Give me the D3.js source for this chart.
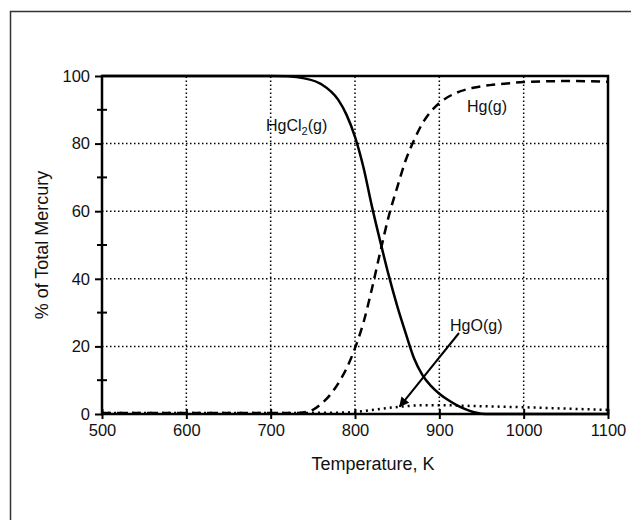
<!DOCTYPE html>
<html>
<head>
<meta charset="utf-8">
<script src="https://cdn.jsdelivr.net/npm/d3@7"></script>
<style>
  body { margin: 0; background: #fff; }
  svg text { font-family: "Liberation Sans", Arial, Helvetica, sans-serif; fill: #111; }
</style>
</head>
<body>
<svg id="chart" width="631" height="520"></svg>
<script>
/*********************  data *********************/
var temps_hgcl2 = [500, 600, 700, 720, 740, 760, 780, 790, 800, 810, 820, 830, 840, 850, 860, 870, 880, 890, 900, 910, 920, 930, 940, 950, 960, 1000, 1100];
var pct_hgcl2   = [100, 100, 100, 99.9, 99.3, 97.6, 93, 88.5, 82, 73, 61.5, 51, 41, 32, 24, 16.5, 11.5, 8.3, 6, 4.2, 2.7, 1.5, 0.6, 0.1, 0, 0, 0];

var temps_hg = [500, 600, 700, 730, 740, 750, 760, 770, 780, 790, 800, 810, 820, 830, 840, 850, 860, 870, 880, 890, 900, 920, 940, 960, 980, 1000, 1050, 1100];
var pct_hg   = [0.3, 0.3, 0.3, 0.3, 0.5, 1.2, 3, 5.5, 9, 13.5, 19.5, 27, 37, 48, 58.5, 67, 75, 81, 86, 89.5, 92, 95, 96.5, 97.3, 97.8, 98.2, 98.5, 98.3];

var temps_hgo = [500, 600, 700, 780, 800, 820, 840, 860, 880, 900, 950, 1000, 1050, 1100];
var pct_hgo   = [0.3, 0.3, 0.3, 0.4, 0.6, 1.2, 1.8, 2.3, 2.6, 2.6, 2.3, 2.0, 1.6, 1.2];

var x_ticks = [500, 600, 700, 800, 900, 1000, 1100];
var y_ticks = [0, 20, 40, 60, 80, 100];
var y_minor = [10, 30, 50, 70, 90];
/*********************************************************************/

var svg = d3.select("#chart");

// outer frame (runs off the right and bottom of the window)
svg.append("rect")
   .attr("x", 10.5).attr("y", 11.5)
   .attr("width", 640).attr("height", 540)
   .attr("fill", "none")
   .attr("stroke", "#333")
   .attr("stroke-width", 1.5);

var x = d3.scaleLinear().domain([500, 1100]).range([102, 608]);
var y = d3.scaleLinear().domain([0, 100]).range([414, 76]);

// dotted grid
var grid = svg.append("g");
grid.selectAll("line.gx")
    .data(x_ticks.slice(1, -1))
    .enter().append("line")
    .attr("x1", function(d){ return x(d); })
    .attr("x2", function(d){ return x(d); })
    .attr("y1", y(0)).attr("y2", y(100))
    .attr("stroke", "#000").attr("stroke-width", 1.5)
    .attr("stroke-dasharray", "1.5,2.5");
grid.selectAll("line.gy")
    .data(y_ticks.slice(1, -1))
    .enter().append("line")
    .attr("y1", function(d){ return y(d); })
    .attr("y2", function(d){ return y(d); })
    .attr("x1", x(500)).attr("x2", x(1100))
    .attr("stroke", "#000").attr("stroke-width", 1.5)
    .attr("stroke-dasharray", "1.5,2.5");

// curves
function series(ts, ps){ return ts.map(function(t, i){ return [t, ps[i]]; }); }
var line = d3.line()
    .x(function(d){ return x(d[0]); })
    .y(function(d){ return y(d[1]); })
    .curve(d3.curveMonotoneX);

svg.append("path").datum(series(temps_hgo, pct_hgo))
   .attr("d", line).attr("fill", "none")
   .attr("stroke", "#000").attr("stroke-width", 2.5)
   .attr("stroke-dasharray", "2,4");
svg.append("path").datum(series(temps_hg, pct_hg))
   .attr("d", line).attr("fill", "none")
   .attr("stroke", "#000").attr("stroke-width", 2.5)
   .attr("stroke-dasharray", "9,6");
svg.append("path").datum(series(temps_hgcl2, pct_hgcl2))
   .attr("d", line).attr("fill", "none")
   .attr("stroke", "#000").attr("stroke-width", 2.5);

// plot frame
svg.append("rect")
   .attr("x", x(500)).attr("y", y(100))
   .attr("width", x(1100) - x(500)).attr("height", y(0) - y(100))
   .attr("fill", "none").attr("stroke", "#000").attr("stroke-width", 2.5);

// y axis
var yAxis = d3.axisLeft(y).tickValues(y_ticks).tickSizeInner(7).tickSizeOuter(0).tickPadding(5);
var gy = svg.append("g").attr("transform", "translate(" + x(500) + ",0)").call(yAxis);
gy.attr("font-size", null).attr("font-family", null);
gy.select(".domain").remove();
gy.selectAll(".tick line").attr("stroke-width", 2);
gy.selectAll(".tick text").style("font-size", "16.5px").attr("fill", "#111");
svg.append("g").selectAll("line")
   .data(y_minor).enter().append("line")
   .attr("x1", x(500) - 5).attr("x2", x(500) + 5)
   .attr("y1", function(d){ return y(d); })
   .attr("y2", function(d){ return y(d); })
   .attr("stroke", "#000").attr("stroke-width", 2);

// x axis
var xAxis = d3.axisBottom(x).tickValues(x_ticks).tickFormat(d3.format("d"))
    .tickSizeInner(5).tickSizeOuter(0).tickPadding(5);
var gx = svg.append("g").attr("transform", "translate(0," + y(0) + ")").call(xAxis);
gx.attr("font-size", null).attr("font-family", null);
gx.select(".domain").remove();
gx.selectAll(".tick line").attr("y1", -5).attr("stroke-width", 2);
gx.selectAll(".tick text").style("font-size", "16.5px").attr("fill", "#111");

// axis titles
svg.append("text")
   .attr("x", 373).attr("y", 470)
   .attr("text-anchor", "middle").style("font-size", "18px")
   .text("Temperature, K");
svg.append("text")
   .attr("transform", "translate(48," + ((y(0) + y(100)) / 2) + ") rotate(-90)")
   .attr("text-anchor", "middle").style("font-size", "18px")
   .text("% of Total Mercury");

// series labels
var lab1 = svg.append("text").attr("x", 266).attr("y", 131).style("font-size", "16px");
lab1.append("tspan").text("HgCl");
lab1.append("tspan").style("font-size", "11px").attr("dy", 4).text("2");
lab1.append("tspan").attr("dy", -4).text("(g)");

svg.append("text").attr("x", 467).attr("y", 112).style("font-size", "16px").text("Hg(g)");
svg.append("text").attr("x", 450).attr("y", 331).style("font-size", "16px").text("HgO(g)");

// arrow to HgO curve
svg.append("defs").append("marker")
   .attr("id", "arr").attr("viewBox", "0 0 10 10")
   .attr("refX", 9).attr("refY", 5)
   .attr("markerWidth", 5).attr("markerHeight", 5)
   .attr("markerUnits", "strokeWidth")
   .attr("orient", "auto")
   .append("path").attr("d", "M0,0 L10,5 L0,10 z").attr("fill", "#000");
svg.append("line")
   .attr("x1", 459).attr("y1", 333)
   .attr("x2", x(853)).attr("y2", y(2.2))
   .attr("stroke", "#000").attr("stroke-width", 2)
   .attr("marker-end", "url(#arr)");
</script>
</body>
</html>
